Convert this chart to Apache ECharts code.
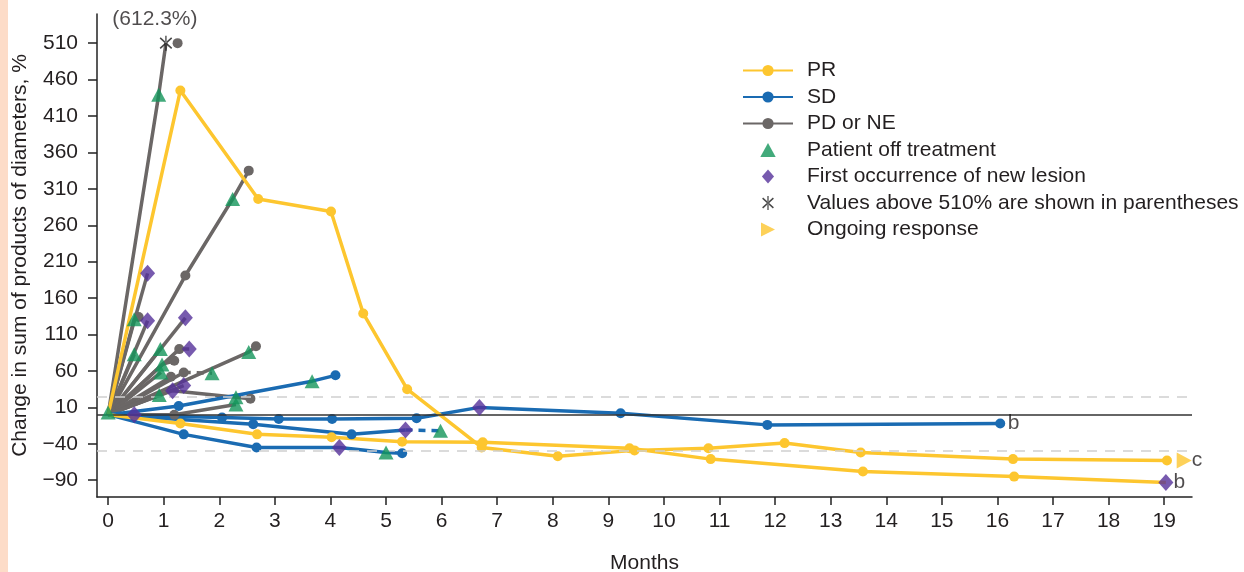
<!DOCTYPE html>
<html><head><meta charset="utf-8">
<script src="https://cdn.jsdelivr.net/npm/echarts@6/dist/echarts.min.js"></script>
<style>
html,body{margin:0;padding:0;background:#fff}
#c{position:absolute;left:0;top:0;width:1244px;height:572px}
#strip{position:absolute;left:0;top:0;width:8px;height:572px;background:#FDDCC8}
</style>
</head><body><div id="c"></div><div id="strip"></div>
<script>
// ---- tick labels ----
const xTicks = [0,1,2,3,4,5,6,7,8,9,10,11,12,13,14,15,16,17,18,19];
const yTicks = [-90,-40,10,60,110,160,210,260,310,360,410,460,510];
const refLines = [25, -50];

// ---- patients: [month, % change, marker] ; N=no dot, T=off treatment, D=new lesion, A=above 510% ----
const pr1 = [[0,0,'N'],[1.30,445],[2.70,296],[4.01,279],[4.59,139],[5.38,35],[6.72,-45],[8.09,-57],[9.47,-49],[10.80,-46],[12.17,-39],[13.54,-52],[16.28,-61],[19.05,-63]];
const pr2 = [[0,0,'N'],[1.30,-12],[2.68,-27],[4.02,-31],[5.29,-37],[6.74,-38],[9.38,-46],[10.84,-61],[13.58,-78],[16.30,-85],[19.03,-93,'D']];

const sd1 = [[0,0,'N'],[1.27,12],[3.67,46,'T'],[4.09,54]];
const sd2 = [[0,0,'N'],[2.05,-4],[3.07,-6],[4.03,-6],[5.55,-5],[6.68,10,'D'],[9.22,2],[11.86,-14],[16.05,-12]];
const sd3 = [[0,0,'N'],[2.61,-13],[4.38,-27],[5.35,-21,'D']];
const sd3dash = [[5.35,-21,'N'],[5.98,-22,'T']];
const sd4 = [[0,0,'N'],[1.36,-27],[2.67,-45],[4.16,-45,'D'],[5.00,-52,'T'],[5.29,-53]];

const g1 = [[0,0,'N'],[0.91,439,'T'],[1.04,510,'A']];
const g1end = [[1.25,510]];
const g2 = [[0,0,'N'],[1.39,191],[2.24,296,'T'],[2.53,335]];
const g3 = [[0,0,'N'],[0.71,194,'D']];
const g4 = [[0,0,'N'],[0.47,131,'T'],[0.55,134]];
const g5 = [[0,0,'N'],[0.71,129,'D']];
const g6 = [[0,0,'N'],[1.39,133,'D']];
const g7 = [[0,0,'N'],[0.47,83,'T']];
const g8 = [[0,0,'N'],[0.94,90,'T']];
const g9 = [[0,0,'N'],[1.28,90],[1.46,90,'D']];
const g10 = [[0,0,'N'],[2.53,86,'T'],[2.66,94]];
const g11 = [[0,0,'N'],[0.97,69,'T'],[1.19,74]];
const g12 = [[0,0,'N'],[0.95,58,'T']];
const g13 = [[0,0,'N'],[1.36,58]];
const g13dash = [[1.36,58,'N'],[1.87,57,'T']];
const g14 = [[0,0,'N'],[1.13,52]];
const g15 = [[0,0,'N'],[0.92,27,'T']];
const g16 = [[0,0,'N'],[1.16,33,'D'],[2.30,24,'T'],[2.56,22]];
const g17 = [[0,0,'N'],[1.36,40,'D']];
const g18 = [[0,0,'N'],[0.47,0,'D'],[1.19,0],[2.30,14,'T']];
const offAtBaseline = [[0,3]];

const ongoing = [[19.36,-63]];
const notes = [[16.05,-12,'b'],[19.03,-93,'b'],[19.36,-63,'c']];
const aboveLabel = '(612.3%)';

// ---- styling ----
const C = {PR:'#FDC62F', SD:'#1A6BB2', PD:'#6B6766', T:'#13955A', D:'#55319A', txt:'#231F20'};
const FONT = "'Liberation Sans', Arial, Helvetica, sans-serif";
const FS = 21;

const offPts = offAtBaseline.slice(), lesionPts = [], abovePts = [];
function collect(arr){
  arr.forEach(p=>{
    if(p[2]==='T') offPts.push([p[0],p[1]]);
    if(p[2]==='D') lesionPts.push([p[0],p[1]]);
    if(p[2]==='A') abovePts.push([p[0],p[1]]);
  });
}
function lineS(name, color, arr, dashed){
  collect(arr);
  return {
    type:'line', name, silent:true, animation:false, z:2,
    symbol:'circle', symbolSize:10,
    lineStyle:{color, width:3.5, type: dashed ? [7,6] : 'solid'},
    itemStyle:{color},
    data: arr.map(p => p[2] ? {value:[p[0],p[1]], symbol:'none'} : [p[0],p[1]])
  };
}

const series = [];
[g1,g1end,g2,g3,g4,g5,g6,g7,g8,g9,g10,g11,g12,g13,g14,g15,g16,g17,g18].forEach(a=>series.push(lineS('PD or NE', C.PD, a)));
series.push(lineS('PD or NE', C.PD, g13dash, true));
[sd1,sd2,sd3,sd4].forEach(a=>series.push(lineS('SD', C.SD, a)));
series.push(lineS('SD', C.SD, sd3dash, true));
[pr1,pr2].forEach(a=>series.push(lineS('PR', C.PR, a)));

// reference lines
series.push({
  type:'line', name:'ref', data:[], silent:true, animation:false,
  markLine:{silent:true, symbol:'none', animation:false, label:{show:false},
    data:[
      {yAxis:0, lineStyle:{color:'#333', width:1.5, type:'solid'}},
      ...refLines.map(v=>({yAxis:v, lineStyle:{color:'#CFCFCF', width:1.5, type:[10,8]}}))
    ]}
});

const asteriskPath = 'path://M-0.09,-1L0.09,-1L0.09,1L-0.09,1Z M0.7,0.78L0.84,0.62L-0.7,-0.78L-0.84,-0.62Z M-0.84,0.62L-0.7,0.78L0.84,-0.62L0.7,-0.78Z';
const rightTri = 'path://M0,0L1,0.5L0,1Z';
const triPath = 'path://M0,-1L1.1,1L-1.1,1Z';
const diaPath = 'path://M0,-1.15L1,0L0,1.15L-1,0Z';

series.push({type:'scatter', name:'Patient off treatment', data:offPts, symbol:'triangle', symbolSize:[15,14], itemStyle:{color:C.T}, z:5, silent:true, animation:false});
series.push({type:'scatter', name:'First occurrence of new lesion', data:lesionPts, symbol:'diamond', symbolSize:[15,17], itemStyle:{color:C.D}, z:6, silent:true, animation:false});
series.push({type:'scatter', name:'Values above 510% are shown in parentheses', data:abovePts, symbol:asteriskPath, symbolKeepAspect:true, symbolSize:15, itemStyle:{color:'#1a1a1a'}, z:7, silent:true, animation:false,
  label:{show:true, position:'top', offset:[-11,-1], formatter:aboveLabel, fontSize:FS, fontFamily:FONT, color:C.txt}});
series.push({type:'scatter', name:'Ongoing response', data:ongoing, symbol:rightTri, symbolSize:[15,16], itemStyle:{color:C.PR}, z:7, silent:true, animation:false});
series.push({type:'scatter', name:'notes', data:notes.map(n=>({value:[n[0],n[1]], name:n[2]})), symbolSize:1, itemStyle:{color:'rgba(0,0,0,0)'}, z:8, silent:true, animation:false,
  label:{show:true, position:'right', distance:7, formatter:p=>p.name, fontSize:FS, fontFamily:FONT, color:C.txt}});

const minus = v => String(v).replace('-', '\u2212');

const chart = echarts.init(document.getElementById('c'), null, {renderer:'canvas'});
chart.setOption({
  backgroundColor:'#fff',
  animation:false,
  grid:{left:97, right:52, top:14, bottom:75, containLabel:false, outerBoundsMode:'none'},
  xAxis:{type:'value', min:-0.2, max:19.5, name:'Months', nameLocation:'middle', nameGap:56,
    nameTextStyle:{fontSize:FS, fontFamily:FONT, color:C.txt},
    axisLine:{onZero:false, lineStyle:{color:'#222', width:1.5}},
    axisTick:{customValues:xTicks, length:8, lineStyle:{color:'#222', width:1.5}},
    axisLabel:{customValues:xTicks, fontSize:FS, fontFamily:FONT, color:C.txt, margin:14},
    splitLine:{show:false}},
  yAxis:{type:'value', min:-113, max:550, name:'Change in sum of products of diameters, %', nameLocation:'middle', nameGap:66,
    nameTextStyle:{fontSize:FS, fontFamily:FONT, color:C.txt},
    axisLine:{show:true, onZero:false, lineStyle:{color:'#222', width:1.5}},
    axisTick:{show:true, customValues:yTicks, length:9, lineStyle:{color:'#222', width:1.5}},
    axisLabel:{customValues:yTicks, formatter:minus, fontSize:FS, fontFamily:FONT, color:C.txt, margin:19},
    splitLine:{show:false}},
  legend:{orient:'vertical', left:742, top:60, padding:0, itemWidth:50, itemHeight:14, itemGap:5.5, selectedMode:false,
    textStyle:{fontSize:FS, lineHeight:21, fontFamily:FONT, color:C.txt, padding:[0,0,0,9]},
    data:['PR','SD','PD or NE',
      {name:'Patient off treatment', icon:triPath},
      {name:'First occurrence of new lesion', icon:diaPath},
      {name:'Values above 510% are shown in parentheses', icon:asteriskPath},
      {name:'Ongoing response', icon:rightTri}]},
  series
});
</script>
</body></html>
